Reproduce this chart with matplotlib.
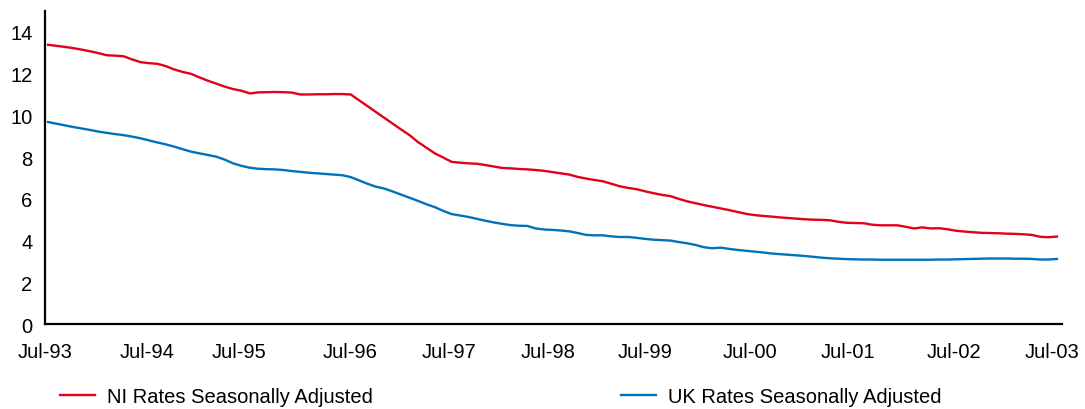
#!/usr/bin/python

# NI vs UK rates, seasonally adjusted, monthly Jul-93 .. Jul-03
import matplotlib
matplotlib.use('Agg')
import matplotlib.pyplot as plt
import numpy as np

NI_RATES = [
    13.38, 13.33, 13.28, 13.22, 13.15, 13.07, 12.98, 12.88, 12.86, 12.83,
    12.68, 12.55, 12.50, 12.47, 12.36, 12.20, 12.08, 11.99, 11.82, 11.66,
    11.52, 11.38, 11.26, 11.18, 11.05, 11.10, 11.11, 11.12, 11.11, 11.09,
    11.00, 11.00, 11.01, 11.01, 11.02, 11.02, 11.00, 10.72, 10.44, 10.16,
    9.88, 9.60, 9.32, 9.05, 8.72, 8.45, 8.18, 7.98, 7.77, 7.73,
    7.70, 7.68, 7.62, 7.55, 7.48, 7.46, 7.43, 7.41, 7.38, 7.34,
    7.28, 7.22, 7.16, 7.05, 6.97, 6.90, 6.84, 6.72, 6.60, 6.52,
    6.46, 6.36, 6.27, 6.19, 6.13, 6.00, 5.88, 5.79, 5.70, 5.62,
    5.54, 5.46, 5.37, 5.28, 5.22, 5.18, 5.15, 5.11, 5.08, 5.05,
    5.02, 5.00, 4.99, 4.97, 4.90, 4.85, 4.84, 4.83, 4.76, 4.73,
    4.73, 4.73, 4.66, 4.58, 4.63, 4.58, 4.59, 4.54, 4.47, 4.43,
    4.40, 4.37, 4.36, 4.35, 4.33, 4.32, 4.30, 4.27, 4.18, 4.16,
    4.19,
]

UK_RATES = [
    9.68, 9.60, 9.52, 9.44, 9.37, 9.30, 9.22, 9.16, 9.10, 9.05,
    8.98, 8.90, 8.80, 8.70, 8.61, 8.50, 8.38, 8.26, 8.18, 8.10,
    8.02, 7.88, 7.70, 7.58, 7.49, 7.44, 7.42, 7.41, 7.38, 7.33,
    7.29, 7.25, 7.22, 7.19, 7.16, 7.13, 7.04, 6.88, 6.72, 6.58,
    6.49, 6.35, 6.20, 6.05, 5.90, 5.74, 5.60, 5.42, 5.27, 5.20,
    5.13, 5.04, 4.95, 4.87, 4.80, 4.74, 4.71, 4.70, 4.58, 4.53,
    4.51, 4.48, 4.44, 4.36, 4.27, 4.25, 4.25, 4.20, 4.17, 4.17,
    4.13, 4.08, 4.04, 4.02, 4.00, 3.93, 3.87, 3.79, 3.68, 3.63,
    3.66, 3.60, 3.55, 3.51, 3.47, 3.43, 3.38, 3.35, 3.32, 3.29,
    3.26, 3.22, 3.18, 3.15, 3.13, 3.11, 3.10, 3.09, 3.09, 3.08,
    3.08, 3.08, 3.08, 3.08, 3.08, 3.08, 3.09, 3.09, 3.10, 3.11,
    3.12, 3.13, 3.14, 3.14, 3.14, 3.13, 3.13, 3.12, 3.09, 3.09,
    3.12,
]

TICK_LABELS = ['Jul-93', 'Jul-94', 'Jul-95', 'Jul-96', 'Jul-97', 'Jul-98',
               'Jul-99', 'Jul-00', 'Jul-01', 'Jul-02', 'Jul-03']

# where the labels sit on the month axis in the original
TICK_POS = [-0.3, 11.8, 22.7, 35.9, 47.7, 59.5, 71.0, 83.5, 95.1, 107.7, 119.4]

RED = '#e2001a'
BLUE = '#0072bc'


def main():
    plt.rcParams['font.family'] = ['Liberation Sans', 'DejaVu Sans']
    fig = plt.figure(figsize=(10.85, 4.1), dpi=100)
    ax = fig.add_axes([0.0415, 0.2073, 0.9373, 0.7634])

    months = np.arange(len(NI_RATES))
    ax.plot(months, NI_RATES, color=RED, lw=1.7, label='NI Rates Seasonally Adjusted')
    ax.plot(months, UK_RATES, color=BLUE, lw=1.7, label='UK Rates Seasonally Adjusted')

    ax.set_xlim(-0.36, 120.6)
    ax.set_ylim(0, 15)
    ax.set_yticks(range(0, 15, 2))
    ax.set_xticks(TICK_POS)
    ax.set_xticklabels(TICK_LABELS)

    for side in ('top', 'right'):
        ax.spines[side].set_visible(False)
    for side in ('left', 'bottom'):
        ax.spines[side].set_linewidth(1.6)
        ax.spines[side].set_color('black')

    ax.tick_params(axis='y', length=0, pad=9, labelsize=14.5)
    ax.tick_params(axis='x', length=0, pad=13, labelsize=14.5)

    fig.legend(loc='lower left', bbox_to_anchor=(0.048, -0.013), ncol=2, frameon=False,
               fontsize=14.5, handlelength=1.75, handletextpad=0.6, columnspacing=12.3,
               borderaxespad=0)

    fig.savefig('out.png', dpi=100)


if __name__ == '__main__':
    main()
